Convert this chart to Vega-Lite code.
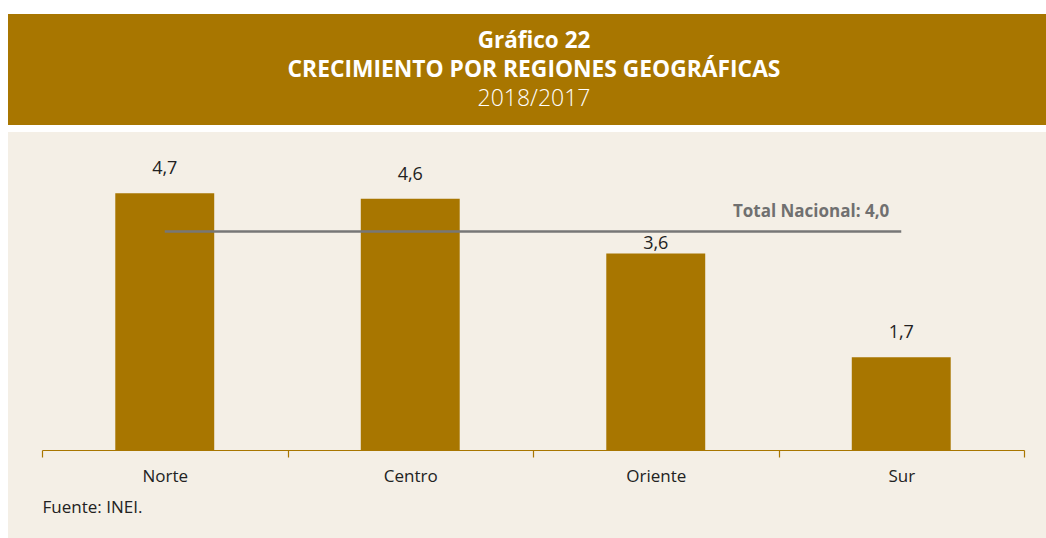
{
  "$schema": "https://vega.github.io/schema/vega-lite/v6.json",
  "background": "white",
  "padding": {"left": 8, "top": 14, "right": 0, "bottom": 0},
  "spacing": 7,
  "config": {
    "view": {"stroke": null},
    "font": "Open Sans",
    "locale": {"number": {"decimal": ",", "thousands": ".", "grouping": [3], "currency": ["", ""]}}
  },
  "vconcat": [
    {
      "width": 1038,
      "height": 111,
      "view": {"fill": "#A87600", "stroke": null},
      "layer": [
        {
          "data": {"values": [{"texto": "Gráfico 22"}]},
          "mark": {"type": "text", "font": "Open Sans", "fontSize": 22.5, "fontWeight": "bold", "color": "white", "baseline": "alphabetic", "align": "center", "dx": 7, "dy": -21.5},
          "encoding": {"text": {"field": "texto"}}
        },
        {
          "data": {"values": [{"texto": "CRECIMIENTO POR REGIONES GEOGRÁFICAS"}]},
          "mark": {"type": "text", "font": "Open Sans", "fontSize": 22.8, "fontWeight": "bold", "color": "white", "baseline": "alphabetic", "align": "center", "dx": 7, "dy": 7.5},
          "encoding": {"text": {"field": "texto"}}
        },
        {
          "data": {"values": [{"texto": "2018/2017"}]},
          "mark": {"type": "text", "font": "Open Sans", "fontSize": 23, "fontWeight": 300, "color": "white", "baseline": "alphabetic", "align": "center", "dx": 7, "dy": 36.5},
          "encoding": {"text": {"field": "texto"}}
        }
      ]
    },
    {
      "width": 1038,
      "height": 406,
      "view": {"fill": "#F4EFE6", "stroke": null},
      "data": {"values": [
        {"region": "Norte", "valor": 4.7},
        {"region": "Centro", "valor": 4.6},
        {"region": "Oriente", "valor": 3.6},
        {"region": "Sur", "valor": 1.7}
      ]},
      "encoding": {
        "x": {
          "field": "region", "type": "nominal", "sort": null,
          "scale": {"range": [34, 1016], "paddingInner": 0, "paddingOuter": 0},
          "axis": {
            "offset": -88,
            "orient": "bottom",
            "domainColor": "#A87600", "domainWidth": 1.2,
            "tickColor": "#A87600", "tickSize": 7, "tickWidth": 1.2, "tickBand": "extent",
            "labelAngle": 0, "labelFont": "Open Sans", "labelFontSize": 17, "labelColor": "#222222", "labelPadding": 11,
            "title": "Fuente: INEI.", "titleAnchor": "start", "titleAlign": "left", "titleFont": "Open Sans",
            "titleFontSize": 17, "titleFontWeight": "normal", "titleColor": "#222222", "titlePadding": 15
          }
        },
        "y": {
          "field": "valor", "type": "quantitative",
          "scale": {"domain": [-1.612, 5.824], "zero": false, "nice": false},
          "axis": null
        }
      },
      "layer": [
        {
          "mark": {"type": "bar", "color": "#A87600", "width": {"band": 0.403}}
        },
        {
          "transform": [{"filter": "datum.region !== 'Oriente'"}],
          "mark": {"type": "text", "font": "Open Sans", "fontSize": 18, "color": "#222222", "baseline": "alphabetic", "dy": -19},
          "encoding": {"text": {"field": "valor", "type": "quantitative", "format": ".1f"}}
        },
        {
          "transform": [{"filter": "datum.region === 'Oriente'"}],
          "mark": {"type": "text", "font": "Open Sans", "fontSize": 18, "color": "#222222", "baseline": "alphabetic", "dy": -4},
          "encoding": {"text": {"field": "valor", "type": "quantitative", "format": ".1f"}}
        },
        {
          "data": {"values": [{"desde": "Norte", "hasta": "Sur", "total": 4.0, "etiqueta": "Total Nacional: 4,0"}]},
          "mark": {"type": "rule", "color": "#777777", "strokeWidth": 2.5},
          "encoding": {
            "x": {"field": "desde", "type": "nominal", "sort": null, "bandPosition": 0.5},
            "x2": {"field": "hasta", "bandPosition": 0.5},
            "y": {"field": "total", "type": "quantitative"}
          }
        },
        {
          "data": {"values": [{"desde": "Norte", "hasta": "Sur", "total": 4.0, "etiqueta": "Total Nacional: 4,0"}]},
          "mark": {"type": "text", "font": "Open Sans", "fontSize": 17, "fontWeight": "bold", "color": "#707070", "align": "right", "baseline": "alphabetic", "dx": -12, "dy": -15},
          "encoding": {
            "x": {"field": "hasta", "type": "nominal", "sort": null, "bandPosition": 0.5},
            "y": {"field": "total", "type": "quantitative"},
            "text": {"field": "etiqueta"}
          }
        }
      ]
    }
  ]
}
